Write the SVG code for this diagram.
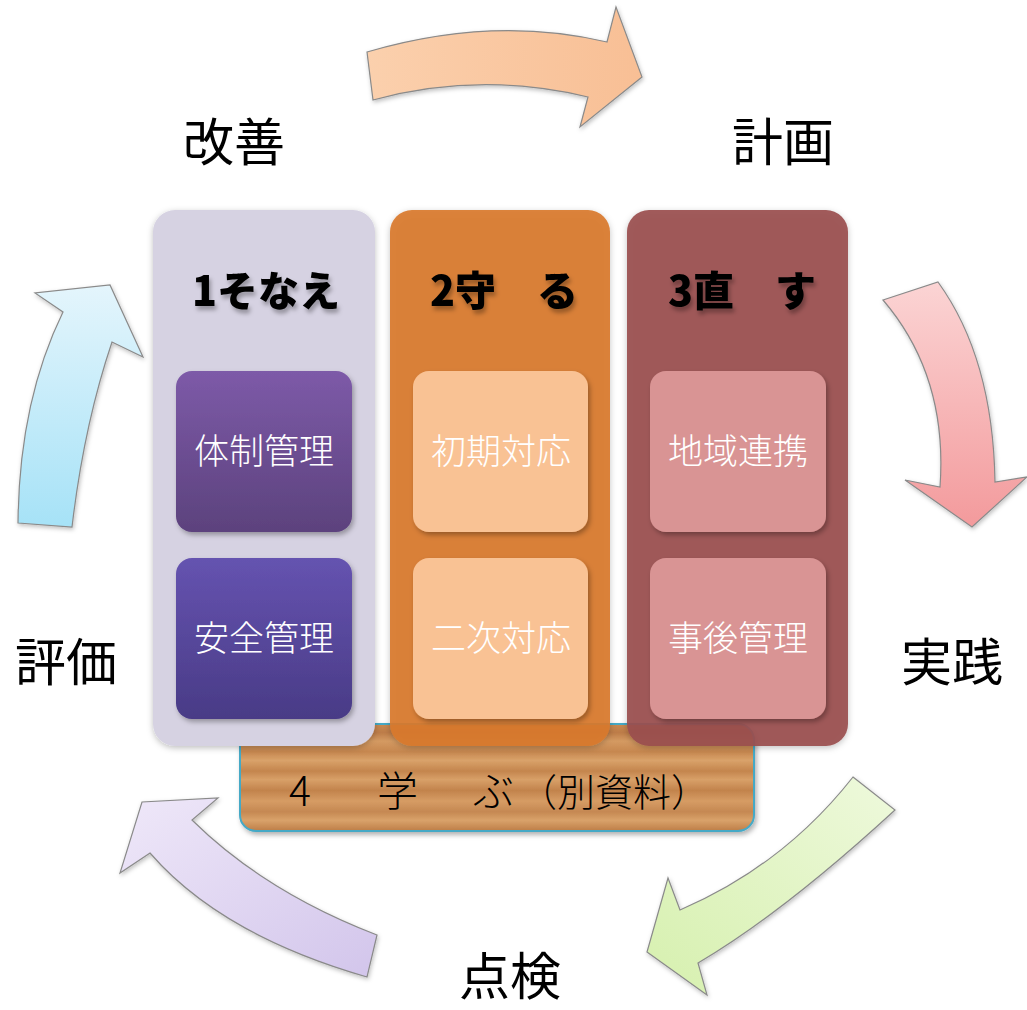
<svg xmlns="http://www.w3.org/2000/svg" width="1027" height="1010" viewBox="0 0 1027 1010">
<defs>
<style>
.cyc{font-family:"Noto Sans CJK JP","Noto Sans CJK SC",sans-serif;font-size:51px;fill:#000;}
.hdr{font-family:"Noto Sans CJK JP","Noto Sans CJK SC",sans-serif;font-size:41px;font-weight:900;fill:#000;text-anchor:middle;}
.box{font-family:"Noto Sans CJK JP","Noto Sans CJK SC",sans-serif;font-size:35px;font-weight:300;fill:#fff;text-anchor:middle;}
.brd{font-family:"Noto Sans CJK JP","Noto Sans CJK SC",sans-serif;font-size:41px;font-weight:300;fill:#000;}
.arr{stroke:#8a8a8a;stroke-width:1.2;stroke-linejoin:miter;}
</style>
<filter id="sh" x="-10%" y="-10%" width="130%" height="130%"><feDropShadow dx="2" dy="3" stdDeviation="2.5" flood-color="#000" flood-opacity="0.3"/></filter>
<filter id="shc" x="-10%" y="-10%" width="130%" height="130%"><feDropShadow dx="0" dy="2" stdDeviation="3" flood-color="#000" flood-opacity="0.25"/></filter>
<filter id="sht" x="-10%" y="-20%" width="130%" height="150%"><feDropShadow dx="2" dy="4" stdDeviation="2" flood-color="#000" flood-opacity="0.3"/></filter>
<filter id="sha" x="-10%" y="-10%" width="130%" height="130%"><feDropShadow dx="1" dy="2" stdDeviation="2" flood-color="#000" flood-opacity="0.25"/></filter>
<linearGradient id="gp1" x1="0" y1="0" x2="0" y2="1"><stop offset="0" stop-color="#7d5aa8"/><stop offset="1" stop-color="#5c427d"/></linearGradient>
<linearGradient id="gp2" x1="0" y1="0" x2="0" y2="1"><stop offset="0" stop-color="#6553b0"/><stop offset="1" stop-color="#493b86"/></linearGradient>
<linearGradient id="wood" x1="0" y1="0" x2="0" y2="1">
<stop offset="0" stop-color="#c98a52"/><stop offset="0.08" stop-color="#bd7c48"/><stop offset="0.16" stop-color="#d49a62"/>
<stop offset="0.26" stop-color="#c6874f"/><stop offset="0.34" stop-color="#d9a26a"/><stop offset="0.44" stop-color="#c4854d"/>
<stop offset="0.52" stop-color="#d8a068"/><stop offset="0.62" stop-color="#c2834c"/><stop offset="0.72" stop-color="#d69c64"/>
<stop offset="0.82" stop-color="#c58852"/><stop offset="0.9" stop-color="#d9a26a"/><stop offset="1" stop-color="#bd7d47"/>
</linearGradient>
<linearGradient id="ga1" x1="0" y1="0" x2="1" y2="0"><stop offset="0" stop-color="#fbd0ad"/><stop offset="1" stop-color="#f8bf95"/></linearGradient>
<linearGradient id="ga2" x1="0" y1="0" x2="0" y2="1"><stop offset="0" stop-color="#fbd4d4"/><stop offset="1" stop-color="#f39a9c"/></linearGradient>
<linearGradient id="ga3" x1="1" y1="0" x2="0" y2="1"><stop offset="0" stop-color="#eef9dc"/><stop offset="1" stop-color="#d6f0ae"/></linearGradient>
<linearGradient id="ga4" x1="0" y1="0" x2="1" y2="1"><stop offset="0" stop-color="#efe8f9"/><stop offset="1" stop-color="#d2c5eb"/></linearGradient>
<linearGradient id="ga5" x1="0" y1="0" x2="0" y2="1"><stop offset="0" stop-color="#e4f5fc"/><stop offset="1" stop-color="#a6e2f7"/></linearGradient>
</defs>

<g id="connectors">
<path class="arr" fill="url(#ga1)" filter="url(#sha)" d="M367,52 Q493,15 607,42 L616,7 L642,77 L580,127 L588,97 Q480,71 373,100 Z"/>
<path class="arr" fill="url(#ga2)" filter="url(#sha)" d="M883,300 L938,282 Q993,358 995,482 L1027,477 L972,527 L905,480 L940,487 Q948,376 883,300 Z"/>
<path class="arr" fill="url(#ga3)" filter="url(#sha)" d="M853,777 L895,810 Q783,913 698,963 L707,995 L647,952 L668,878 L680,910 Q783,866 853,777 Z"/>
<path class="arr" fill="url(#ga4)" filter="url(#sha)" d="M377,935 L367,977 Q221,935 150,853 L120,873 L142,802 L218,798 L192,820 Q265,892 377,935 Z"/>
<path class="arr" fill="url(#ga5)" filter="url(#sha)" d="M18,523 L72,527 Q84,425 112,342 L143,357 L110,285 L35,293 L63,312 Q19,402 18,523 Z"/>
</g>

<g id="label-kaizen"><text class="cyc" x="183" y="161">改善</text></g>
<g id="label-keikaku"><text class="cyc" x="732" y="161">計画</text></g>
<g id="label-hyouka"><text class="cyc" x="15" y="681">評価</text></g>
<g id="label-jissen"><text class="cyc" x="901" y="681">実践</text></g>
<g id="label-tenken"><text class="cyc" x="459" y="995">点検</text></g>

<g id="board">
<rect x="240" y="724" width="514" height="107" rx="16" fill="url(#wood)" stroke="#45a9c6" stroke-width="2" filter="url(#sh)"/>
<text class="brd" y="806"><tspan x="289">4</tspan><tspan x="377">学</tspan><tspan x="473">ぶ</tspan><tspan x="519" font-size="38">（別資料）</tspan></text>
</g>

<g id="col1">
<rect x="153" y="210" width="222" height="536" rx="22" fill="#d6d2e2" filter="url(#shc)"/>
<text class="hdr" x="266" y="306" filter="url(#sht)">1そなえ</text>
</g>
<g id="col2">
<rect x="390" y="210" width="220" height="536" rx="22" fill="#d97a2c" fill-opacity="0.92" filter="url(#shc)"/>
<text class="hdr" x="504" y="306" filter="url(#sht)">2守　る</text>
</g>
<g id="col3">
<rect x="627" y="210" width="221" height="536" rx="22" fill="#9a4e4e" fill-opacity="0.92" filter="url(#shc)"/>
<text class="hdr" x="742" y="306" filter="url(#sht)">3直　す</text>
</g>

<g id="box-taisei"><rect x="176" y="371" width="176" height="161" rx="16" fill="url(#gp1)" filter="url(#sh)"/><text class="box" x="264" y="464">体制管理</text></g>
<g id="box-anzen"><rect x="176" y="558" width="176" height="161" rx="16" fill="url(#gp2)" filter="url(#sh)"/><text class="box" x="264" y="651">安全管理</text></g>
<g id="box-shoki"><rect x="413" y="371" width="175" height="161" rx="16" fill="#f9c294" filter="url(#sh)"/><text class="box" x="501" y="464">初期対応</text></g>
<g id="box-niji"><rect x="413" y="558" width="175" height="161" rx="16" fill="#f9c294" filter="url(#sh)"/><text class="box" x="501" y="651">二次対応</text></g>
<g id="box-chiiki"><rect x="650" y="371" width="176" height="161" rx="16" fill="#d99494" filter="url(#sh)"/><text class="box" x="738" y="464">地域連携</text></g>
<g id="box-jigo"><rect x="650" y="558" width="176" height="161" rx="16" fill="#d99494" filter="url(#sh)"/><text class="box" x="738" y="651">事後管理</text></g>
</svg>
